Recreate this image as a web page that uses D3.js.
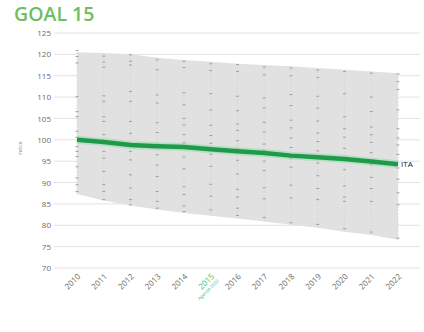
<!DOCTYPE html>
<html>
<head>
<meta charset="utf-8">
<script src="https://cdn.jsdelivr.net/npm/d3@7"></script>
<style>
  html, body { margin: 0; padding: 0; background: #fff; }
  svg { display: block; font-family: "Open Sans", "DejaVu Sans", sans-serif; }
</style>
</head>
<body>
<svg id="chart" width="424" height="332"></svg>
<script>
// Years on the x axis
const years = [2010, 2011, 2012, 2013, 2014, 2015, 2016, 2017, 2018, 2019, 2020, 2021, 2022];
// Italy composite index
const itaValues = [100, 99.5, 98.8, 98.5, 98.3, 97.8, 97.3, 96.9, 96.3, 95.9, 95.5, 94.9, 94.3];
// Range covered by all territories (upper and lower envelope)
const bandMax = [120.5, 120.3, 120.0, 119.2, 118.7, 118.3, 117.8, 117.5, 117.2, 116.8, 116.4, 116.0, 115.6];
const bandMin = [87.3, 85.8, 84.6, 83.7, 82.9, 82.2, 81.6, 80.9, 80.1, 79.4, 78.5, 77.7, 76.6];
// Individual territory values per year
const territoryValues = [
  [120.9, 119.5, 118.0, 110.1, 106.6, 105.4, 102.0, 100.6, 98.4, 97.3, 96.1, 93.7, 91.1, 89.5, 87.9],
  [119.6, 118.2, 117.0, 110.3, 109.0, 105.4, 104.3, 101.2, 99.6, 97.3, 95.7, 92.6, 89.5, 87.9, 86.0],
  [119.9, 118.4, 117.5, 111.3, 109.0, 104.3, 101.5, 98.8, 97.3, 95.3, 91.8, 88.7, 86.0, 84.8],
  [118.7, 116.4, 110.5, 108.6, 104.0, 101.7, 99.0, 96.5, 94.1, 91.4, 87.9, 85.6, 84.0],
  [118.4, 116.9, 111.0, 108.2, 105.0, 103.5, 101.2, 99.3, 96.0, 93.2, 89.0, 87.2, 84.5, 83.2],
  [117.8, 116.2, 110.8, 107.0, 103.4, 101.0, 99.2, 98.0, 96.6, 93.8, 89.6, 86.8, 83.6],
  [117.6, 116.0, 110.2, 106.8, 103.7, 102.2, 99.8, 97.9, 95.2, 92.0, 88.4, 86.6, 84.0, 82.3],
  [117.0, 115.2, 109.8, 107.5, 104.1, 101.8, 99.0, 97.6, 95.0, 92.8, 88.8, 86.2, 81.8],
  [116.8, 115.0, 110.6, 108.0, 104.6, 102.8, 100.4, 98.2, 95.6, 93.6, 89.4, 86.4, 80.6],
  [116.3, 114.6, 110.2, 107.4, 104.4, 101.6, 99.6, 97.4, 94.6, 91.6, 88.6, 86.0, 80.2],
  [116.0, 110.8, 105.4, 102.6, 100.6, 98.0, 95.2, 93.0, 89.2, 86.6, 85.6, 79.2],
  [115.6, 110.0, 106.6, 103.0, 101.2, 99.4, 97.0, 94.2, 91.2, 88.6, 85.6, 78.4],
  [115.4, 113.6, 111.8, 107.0, 102.6, 100.4, 98.8, 96.6, 93.4, 90.8, 87.6, 84.8, 77.0]
];
// Axis ticks
const yTicks = [70, 75, 80, 85, 90, 95, 100, 105, 110, 115, 120, 125];
const baseYear = 2015;
const baseNote = "Agenda 2030";
const title = "GOAL 15";
const seriesLabel = "ITA";
const yTitle = "indice";

const svg = d3.select("#chart");
const green = "#1f9a4b";

const x = d3.scalePoint().domain(years).range([77, 398]);
const y = d3.scaleLinear().domain([70, 125]).range([268, 33]);

// Title
svg.append("text")
  .attr("x", 14).attr("y", 21)
  .attr("font-size", 19.5).attr("font-weight", 600)
  .attr("fill", "#6cbf5c")
  .text(title);

// Horizontal grid
svg.append("g")
  .selectAll("line")
  .data(yTicks)
  .join("line")
  .attr("x1", 54).attr("x2", 420)
  .attr("y1", d => y(d)).attr("y2", d => y(d))
  .attr("stroke", "#e2e2e2").attr("stroke-width", 1);

// Y axis labels
const yAxis = d3.axisLeft(y).tickValues(yTicks).tickSize(0).tickPadding(0);
const gy = svg.append("g").attr("transform", "translate(51,0)").call(yAxis);
gy.select(".domain").remove();
gy.selectAll("text").attr("font-size", 8).attr("fill", "#6a6a6a")
  .attr("font-family", "'Open Sans', sans-serif");

// Y axis title
svg.append("text")
  .attr("transform", `translate(22,${y(98)}) rotate(-90)`)
  .attr("text-anchor", "middle")
  .attr("font-size", 5).attr("fill", "#888")
  .text(yTitle);

// Range band
const area = d3.area()
  .x((d, i) => x(years[i]))
  .y0((d, i) => y(bandMin[i]))
  .y1(d => y(d));
svg.append("path")
  .datum(bandMax)
  .attr("d", area)
  .attr("fill", "#e1e1e1");

// Faint vertical guides at each year
svg.append("g")
  .selectAll("line")
  .data(years)
  .join("line")
  .attr("x1", d => x(d)).attr("x2", d => x(d))
  .attr("y1", (d, i) => y(bandMax[i])).attr("y2", (d, i) => y(bandMin[i]))
  .attr("stroke", "#cfcfcf").attr("stroke-width", 0.6)
  .attr("stroke-dasharray", "1.5,2");

// Territory dashes
const dashes = years.flatMap((yr, i) => territoryValues[i].map(v => ({ yr, v })));
svg.append("g")
  .selectAll("line")
  .data(dashes)
  .join("line")
  .attr("x1", d => x(d.yr) - 1.5).attr("x2", d => x(d.yr) + 1.5)
  .attr("y1", d => y(d.v)).attr("y2", d => y(d.v))
  .attr("stroke", "#999").attr("stroke-width", 0.9);

// Italy line with soft halo
const line = d3.line().x((d, i) => x(years[i])).y(d => y(d));
svg.append("path")
  .datum(itaValues)
  .attr("d", line)
  .attr("fill", "none")
  .attr("stroke", "#8fdca6").attr("stroke-opacity", 0.5)
  .attr("stroke-width", 8);
svg.append("path")
  .datum(itaValues)
  .attr("d", line)
  .attr("fill", "none")
  .attr("stroke", green)
  .attr("stroke-width", 4.5);

// Series label
svg.append("text")
  .attr("x", x(years[years.length - 1]) + 3)
  .attr("y", y(itaValues[itaValues.length - 1]) + 3)
  .attr("font-size", 8).attr("fill", "#222")
  .text(seriesLabel);

// X axis labels, rotated
const xl = svg.append("g")
  .selectAll("text")
  .data(years)
  .join("text")
  .attr("transform", d => `translate(${x(d) + 4},277) rotate(-45)`)
  .attr("text-anchor", "end")
  .attr("font-size", 8)
  .attr("fill", d => d === baseYear ? "#3fc06a" : "#6a6a6a");
xl.append("tspan").text(d => d);
xl.filter(d => d === baseYear)
  .append("tspan")
  .attr("x", 0).attr("dy", 6)
  .attr("font-size", 4.5)
  .text(baseNote);
</script>
</body>
</html>
